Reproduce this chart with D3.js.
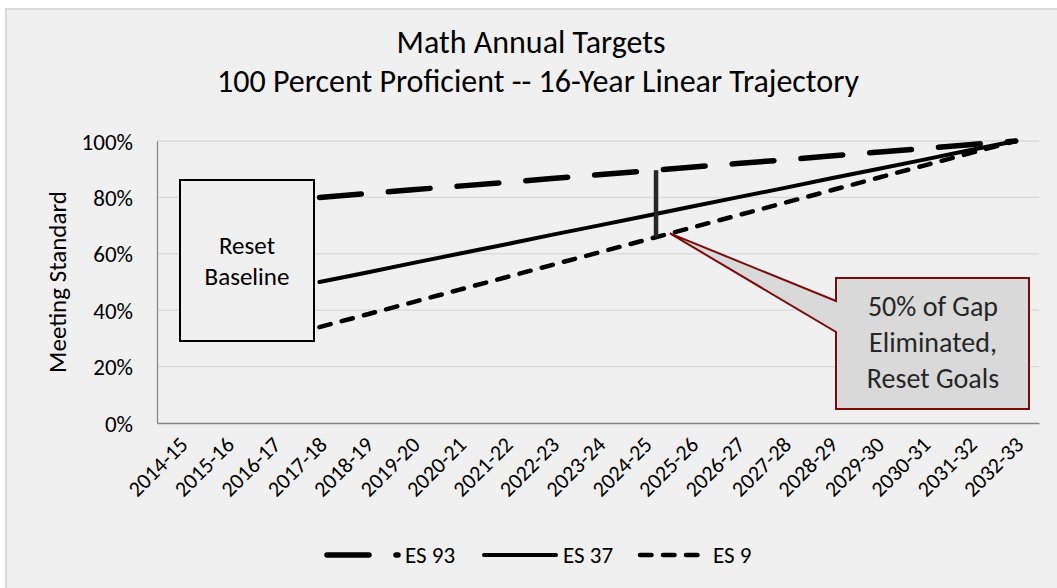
<!DOCTYPE html>
<html>
<head>
<meta charset="utf-8">
<script src="https://cdn.jsdelivr.net/npm/d3@7"></script>
<style>
  body { margin: 0; background: #fff; }
  text { font-family: Carlito, Lato, 'Open Sans', sans-serif; fill: #000; }
</style>
</head>
<body>
<div class="chart"></div>
<script>
const years = ['2014-15', '2015-16', '2016-17', '2017-18', '2018-19', '2019-20', '2020-21',
  '2021-22', '2022-23', '2023-24', '2024-25', '2025-26', '2026-27', '2027-28', '2028-29',
  '2029-30', '2030-31', '2031-32', '2032-33']
const es93 = [null, null, null, 80, 81.3, 82.7, 84, 85.3, 86.7, 88, 89.3, 90.7, 92, 93.3, 94.7, 96, 97.3, 98.7, 100]
const es37 = [null, null, null, 50, 53.3, 56.7, 60, 63.3, 66.7, 70, 73.3, 76.7, 80, 83.3, 86.7, 90, 93.3, 96.7, 100]
const es9 = [null, null, null, 34, 38.4, 42.8, 47.2, 51.6, 56, 60.4, 64.8, 69.2, 73.6, 78, 82.4, 86.8, 91.2, 95.6, 100]
const yTicks = [0, 20, 40, 60, 80, 100]

const width = 1057
const height = 588
const margin = { top: 141, right: 18, bottom: 165, left: 157 }

const svg = d3.select('.chart')
  .append('svg')
  .attr('width', width)
  .attr('height', height)

svg.append('rect')
  .attr('x', 6)
  .attr('y', 9)
  .attr('width', width + 10)
  .attr('height', height + 10)
  .attr('fill', '#f0f0f0')
  .attr('stroke', '#d9d9d9')
  .attr('stroke-width', 2)

var xScale = d3.scaleBand()
  .domain(years)
  .range([margin.left, width - margin.right])
  .padding(0)

var yScale = d3.scaleLinear()
  .domain([0, 100])
  .range([height - margin.bottom, margin.top])

const bw = xScale.bandwidth()
const xc = i => xScale(years[0]) + (i + 0.5) * bw
// value on a series at a fractional category position
const valAt = (arr, t) => {
  let i = Math.floor(t)
  return arr[i] + (arr[i + 1] - arr[i]) * (t - i)
}

// gridlines
svg.append('g')
  .selectAll('line')
  .data(yTicks.slice(1))
  .enter()
  .append('line')
  .attr('x1', margin.left)
  .attr('x2', width - margin.right)
  .attr('y1', d => yScale(d))
  .attr('y2', d => yScale(d))
  .attr('stroke', '#d9d9d9')
  .attr('stroke-width', 1.3)

// axes
const yAxis = d3.axisLeft(yScale).tickValues(yTicks).tickFormat(d => d + '%').tickSize(0).tickPadding(24)
const gy = svg.append('g')
  .attr('transform', 'translate(' + margin.left + ',0)')
  .call(yAxis)
gy.select('.domain').attr('stroke', '#898989').attr('stroke-width', 1.3)
gy.selectAll('text').style('font-size', '23px').attr('dy', '0.35em')

const xAxis = d3.axisBottom(xScale).tickSize(0).tickSizeOuter(0)
const gx = svg.append('g')
  .attr('transform', 'translate(0,' + (height - margin.bottom) + ')')
  .call(xAxis)
gx.select('.domain').attr('stroke', '#898989').attr('stroke-width', 1.3)
gx.selectAll('text')
  .style('font-size', '22px')
  .attr('text-anchor', 'end')
  .attr('dy', 0)
  .attr('y', 0)
  .attr('transform', 'translate(9,23) rotate(-45)')

// titles
svg.append('text')
  .attr('x', 531)
  .attr('y', 53)
  .attr('text-anchor', 'middle')
  .style('font-size', '32px')
  .text('Math Annual Targets')

svg.append('text')
  .attr('x', 538)
  .attr('y', 92)
  .attr('text-anchor', 'middle')
  .style('font-size', '32px')
  .text('100 Percent Proficient -- 16-Year Linear Trajectory')

svg.append('text')
  .attr('transform', 'translate(66,282) rotate(-90)')
  .attr('text-anchor', 'middle')
  .style('font-size', '25px')
  .text('Meeting Standard')

// series
const series = [
  { name: 'ES 93', values: es93, w: 5.5, dash: '42 27' },
  { name: 'ES 37', values: es37, w: 4, dash: null },
  { name: 'ES 9', values: es9, w: 4.5, dash: '11.5 11.5' }
]

var line = d3.line()
  .defined(d => d[1] != null)
  .x(d => xc(d[0]))
  .y(d => yScale(d[1]))

svg.selectAll('.series')
  .data(series)
  .enter()
  .append('path')
  .attr('class', 'series')
  .attr('d', s => line(s.values.map((v, i) => [i, v])))
  .attr('fill', 'none')
  .attr('stroke', '#000')
  .attr('stroke-width', s => s.w)
  .attr('stroke-linecap', 'round')
  .attr('stroke-dasharray', s => s.dash)

// gap bar
const gapAt = 10.25
svg.append('line')
  .attr('x1', xc(gapAt))
  .attr('x2', xc(gapAt))
  .attr('y1', yScale(valAt(es93, gapAt)))
  .attr('y2', yScale(valAt(es9, gapAt)))
  .attr('stroke', '#262626')
  .attr('stroke-width', 4.5)

// reset baseline box
svg.append('rect')
  .attr('x', 180)
  .attr('y', 180)
  .attr('width', 134)
  .attr('height', 161)
  .attr('fill', '#f0f0f0')
  .attr('stroke', '#000')
  .attr('stroke-width', 2)

svg.append('text')
  .attr('text-anchor', 'middle')
  .style('font-size', '25px')
  .selectAll('tspan')
  .data(['Reset', 'Baseline'])
  .enter()
  .append('tspan')
  .attr('x', 247)
  .attr('y', (d, i) => 254 + i * 31)
  .text(d => d)

// callout
const tipAt = 10.55
const tx = xc(tipAt)
const ty = yScale(valAt(es9, tipAt))
const bx0 = 836, bx1 = 1029, by0 = 278, by1 = 409
svg.append('path')
  .attr('d', 'M' + bx0 + ',' + by0 + 'H' + bx1 + 'V' + by1 + 'H' + bx0 + 'V332L' + tx + ',' + ty + 'L' + bx0 + ',301Z')
  .attr('fill', '#d9d9d9')
  .attr('stroke', '#7b0b0b')
  .attr('stroke-width', 2)

svg.append('text')
  .attr('text-anchor', 'middle')
  .style('font-size', '28px')
  .style('fill', '#262626')
  .selectAll('tspan')
  .data(['50% of Gap', 'Eliminated,', 'Reset Goals'])
  .enter()
  .append('tspan')
  .attr('x', 933)
  .attr('y', (d, i) => 316 + i * 36)
  .text(d => d)

// legend
const legendX = [327, 484, 640]
const legendLen = [71, 72, 66]
var legend = svg.selectAll('.legend')
  .data(series)
  .enter()
  .append('g')
  .attr('class', 'legend')
  .attr('transform', (d, i) => 'translate(' + legendX[i] + ',555)')

legend.append('line')
  .attr('x1', 0)
  .attr('x2', (d, i) => legendLen[i])
  .attr('stroke', '#000')
  .attr('stroke-width', d => d.w)
  .attr('stroke-linecap', 'round')
  .attr('stroke-dasharray', d => d.dash)

legend.append('text')
  .attr('x', (d, i) => legendLen[i] + 7)
  .attr('y', 8)
  .style('font-size', '23px')
  .text(d => d.name)
</script>
</body>
</html>
